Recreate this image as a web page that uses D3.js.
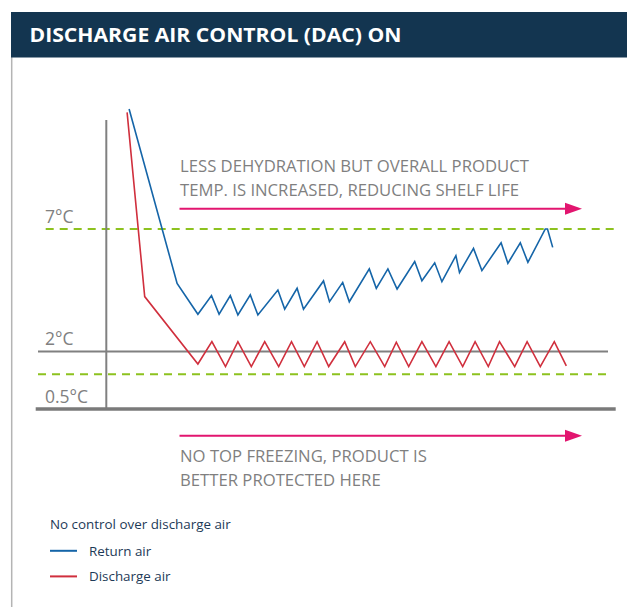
<!DOCTYPE html>
<html>
<head>
<meta charset="utf-8">
<script src="https://cdn.jsdelivr.net/npm/d3@7"></script>
<style>
  body { margin: 0; background: #fff; }
  svg { display: block; font-family: "Open Sans", "Noto Sans", sans-serif; }
</style>
</head>
<body>
<svg id="chart" width="627" height="607"></svg>
<script>
const returnT = [5.7, 17.7, 22.9, 26.3, 28.2, 31, 32.9, 36, 37.9, 42.9, 44.6, 47.7, 49.3, 54.3, 55.8, 59.1, 60.75,
  65.75, 67.5, 70.4, 72.7, 77.1, 78.9, 82.1, 83.9, 87.4, 88.3, 91.8, 93.9, 98.7, 100.4, 103.5, 105.4, 109.75, 110.3, 111.6];
const returnTemp = [11.9, 4.78, 3.52, 4.28, 3.52, 4.28, 3.49, 4.31, 3.49, 4.51, 3.73, 4.58, 3.73, 4.88, 4.03, 4.82, 4.03,
  5.37, 4.58, 5.37, 4.55, 5.67, 4.89, 5.62, 4.85, 5.91, 5.22, 6.21, 5.30, 6.44, 5.60, 6.44, 5.64, 7.0, 7.0, 6.25];

const dischargeT = [5.2, 9.6, 22.9, 26.4, 29.8, 32.9, 36.25, 39.6, 43.1, 46.3, 49.5, 52.7, 55.6, 59.6, 62.25, 66,
  69.6, 72.5, 75.6, 78.9, 82.4, 85.7, 89.1, 92.2, 95.5, 98.3, 102.1, 105.2, 108.5, 112, 115];
const dischargeTemp = [11.76, 4.24, 1.45, 2.4, 1.34, 2.4, 1.34, 2.4, 1.34, 2.4, 1.34, 2.4, 1.34, 2.4, 1.34, 2.4,
  1.34, 2.38, 1.34, 2.4, 1.34, 2.4, 1.34, 2.4, 1.34, 2.4, 1.34, 2.4, 1.34, 2.4, 1.37];

const tempLabels = ["7°C", "2°C", "0.5°C"];
const tempLabelValues = [7, 2, 0.5];
const limitLines = [7, 1];        // green dashed limits
const setPoint = 2;               // grey reference line
const axisTop = 11.45;

const title = "DISCHARGE AIR CONTROL (DAC) ON";
const noteTop = ["LESS DEHYDRATION BUT OVERALL PRODUCT", "TEMP. IS INCREASED, REDUCING SHELF LIFE"];
const noteBottom = ["NO TOP FREEZING, PRODUCT IS", "BETTER PROTECTED HERE"];
const legendTitle = "No control over discharge air";
const seriesNames = ["Return air", "Discharge air"];
const seriesColors = ["#1565a8", "#d02f3d"];

const svg = d3.select("#chart");

const x = d3.scaleLinear().domain([0, 127]).range([106.3, 614.3]);
const y = d3.scaleLinear().domain([0.5, 1, 2, 7]).range([409, 374.3, 351.5, 229]);

// panel header + left border
svg.append("line")
    .attr("x1", 11.7).attr("x2", 11.7).attr("y1", 57).attr("y2", 607)
    .attr("stroke", "#b4b4b4").attr("stroke-width", 1.5);
svg.append("rect")
    .attr("x", 11).attr("y", 12).attr("width", 616).attr("height", 45.5)
    .attr("fill", "#133550");
svg.append("text")
    .attr("x", 29.5).attr("y", 41.8)
    .attr("fill", "#fff")
    .attr("font-size", 19.5).attr("font-weight", 700)
    .attr("textLength", 372).attr("lengthAdjust", "spacingAndGlyphs")
    .text(title);

// reference lines
svg.selectAll(".limit")
    .data(limitLines)
    .enter().append("line")
    .attr("class", "limit")
    .attr("x1", function (d, i) { return i === 0 ? 45.7 : 38; })
    .attr("x2", function (d, i) { return i === 0 ? 617 : 608; })
    .attr("y1", function (d) { return y(d); })
    .attr("y2", function (d) { return y(d); })
    .attr("stroke", "#8dc21f").attr("stroke-width", 2)
    .attr("stroke-dasharray", "8,6");

svg.append("line")
    .attr("x1", 38).attr("x2", 608)
    .attr("y1", y(setPoint)).attr("y2", y(setPoint))
    .attr("stroke", "#808080").attr("stroke-width", 2);

// axes
svg.append("line")
    .attr("x1", x(0)).attr("x2", x(0))
    .attr("y1", y(axisTop)).attr("y2", y(0.5))
    .attr("stroke", "#808080").attr("stroke-width", 2);
svg.append("line")
    .attr("x1", 35.7).attr("x2", 615.7)
    .attr("y1", y(0.5)).attr("y2", y(0.5))
    .attr("stroke", "#7a7a7a").attr("stroke-width", 3.5);

svg.selectAll(".tlabel")
    .data(tempLabelValues)
    .enter().append("text")
    .attr("class", "tlabel")
    .attr("x", 45)
    .attr("y", function (d) { return y(d) - 6.5; })
    .attr("fill", "#808080")
    .attr("font-size", 17.5)
    .text(function (d, i) { return tempLabels[i]; });

// series
const line = d3.line()
    .x(function (d) { return x(d[0]); })
    .y(function (d) { return y(d[1]); });

const series = [d3.zip(returnT, returnTemp), d3.zip(dischargeT, dischargeTemp)];

svg.selectAll(".series")
    .data(series)
    .enter().append("path")
    .attr("class", "series")
    .attr("d", line)
    .attr("fill", "none")
    .attr("stroke", function (d, i) { return seriesColors[i]; })
    .attr("stroke-width", 1.6)
    .attr("stroke-linejoin", "miter");

// annotations
function arrow(yPos) {
    svg.append("line")
        .attr("x1", 179.5).attr("x2", 567)
        .attr("y1", yPos).attr("y2", yPos)
        .attr("stroke", "#e2156f").attr("stroke-width", 2);
    svg.append("path")
        .attr("d", "M565," + (yPos - 6) + "L582," + yPos + "L565," + (yPos + 6) + "Z")
        .attr("fill", "#e2156f");
}
arrow(208.7);
arrow(435.8);

function note(lines, y0) {
    svg.append("g").selectAll("text")
        .data(lines)
        .enter().append("text")
        .attr("x", 180)
        .attr("y", function (d, i) { return y0 + i * 23.5; })
        .attr("fill", "#7f7f7f")
        .attr("font-size", 16.7)
        .text(function (d) { return d; });
}
note(noteTop, 172);
note(noteBottom, 462);

// legend
svg.append("text")
    .attr("x", 50).attr("y", 529.3)
    .attr("fill", "#1d3a57").attr("font-size", 13.4)
    .text(legendTitle);

const leg = svg.selectAll(".leg")
    .data(seriesNames)
    .enter().append("g")
    .attr("class", "leg")
    .attr("transform", function (d, i) { return "translate(50," + (550.8 + i * 25.6) + ")"; });
leg.append("line")
    .attr("x1", 0).attr("x2", 27)
    .attr("stroke", function (d, i) { return seriesColors[i]; })
    .attr("stroke-width", 2);
leg.append("text")
    .attr("x", 39).attr("y", 5)
    .attr("fill", "#1d3a57").attr("font-size", 13.4)
    .text(function (d) { return d; });
</script>
</body>
</html>
